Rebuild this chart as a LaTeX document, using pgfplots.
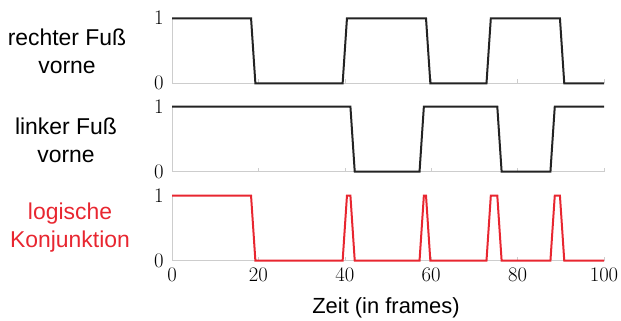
\documentclass[border=0pt]{standalone}
\usepackage{fontspec}
\setmainfont{Liberation Sans}
\usepackage{pgfplots}
\pgfplotsset{compat=1.18}
\definecolor{myred}{RGB}{232,38,48}
\definecolor{axgray}{RGB}{205,205,205}
\definecolor{sig}{RGB}{35,35,35}
\pgfplotsset{
  sigaxis/.style={
    scale only axis, width=432bp, height=65bp,
    xmin=0,xmax=100,ymin=0,ymax=1,
    axis x line=bottom, axis y line=left,
    axis line style={axgray, line width=0.8bp, -},
    xtick={0,20,...,100}, ytick={0,1},
    tick style={axgray, line width=0.6bp},
    major tick length=4bp,
    tick align=inside,
    yticklabel style={font=\fontsize{21}{21}\selectfont, xshift=-5bp},
    xticklabel style={font=\fontsize{21}{21}\selectfont, yshift=-4bp},
    clip=false, anchor=south west,
  }
}
\begin{document}
\begin{tikzpicture}
\useasboundingbox (0,0) rectangle (621bp,321bp);
% top: rechter Fuss vorne
\begin{axis}[sigaxis, at={(172bp,237.7bp)}, xticklabels={}]
\addplot[sig, line width=2bp] coordinates {
(0,1)(18.3,1)(19.3,0)(39.5,0)(40.5,1)(58.8,1)(59.8,0)(72.8,0)(73.8,1)(89.8,1)(90.8,0)(100,0)};
\end{axis}
% middle: linker Fuss vorne
\begin{axis}[sigaxis, at={(172bp,149.3bp)}, xticklabels={}]
\addplot[sig, line width=2bp] coordinates {
(0,1)(41.3,1)(42.3,0)(57.3,0)(58.3,1)(75.3,1)(76.3,0)(87.6,0)(88.6,1)(100,1)};
\end{axis}
% bottom: logische Konjunktion
\begin{axis}[sigaxis, at={(172bp,60.3bp)}]
\addplot[myred, line width=2bp] coordinates {
(0,1)(18.3,1)(19.3,0)(39.5,0)(40.5,1)(41.3,1)(42.3,0)(57.3,0)(58.3,1)(58.8,1)(59.8,0)(72.8,0)(73.8,1)(75.3,1)(76.3,0)(87.6,0)(88.6,1)(89.8,1)(90.8,0)(100,0)};
\end{axis}
\node[align=center, font=\fontsize{23}{28}\selectfont] at (67bp,270bp) {rechter Fuß\\vorne};
\node[align=center, font=\fontsize{23}{28}\selectfont] at (66bp,181bp) {linker Fuß\\vorne};
\node[align=center, font=\fontsize{23}{28}\selectfont, text=myred] at (70bp,93bp) {logische\\Konjunktion};
\node[font=\fontsize{22}{22}\selectfont, anchor=base] at (386bp,8bp) {Zeit (in frames)};
\end{tikzpicture}
\end{document}
